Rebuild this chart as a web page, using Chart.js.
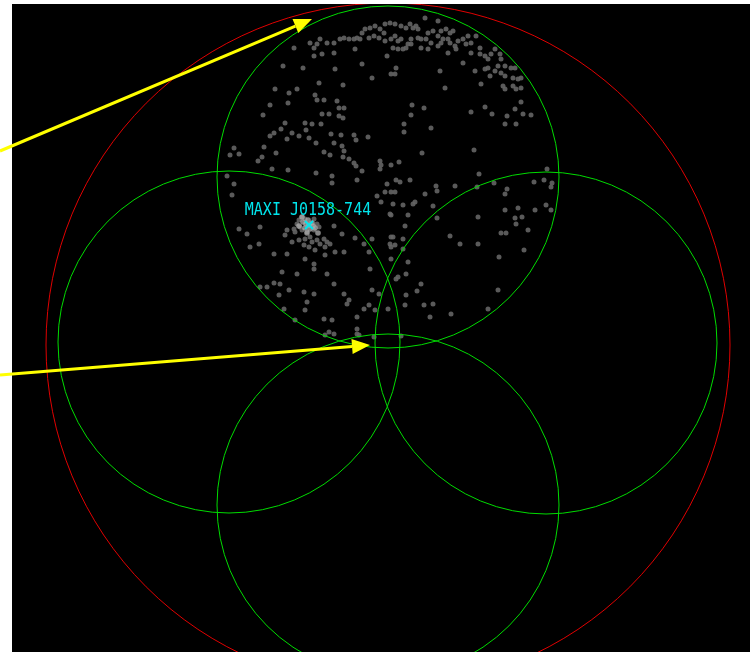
<!DOCTYPE html>
<html><head><meta charset="utf-8">
<script src="https://cdn.jsdelivr.net/npm/chart.js@4.4.1/dist/chart.umd.min.js"></script>
<style>html,body{margin:0;padding:0;background:#fff;}#wrap{width:750px;height:652px;}</style>
</head><body><div id="wrap"><canvas id="c" width="750" height="652"></canvas></div>
<script>
// gray event dots (detector coordinates)
const dotsX = [344,349,354,357,362,365,370,375,380,384,385,374,379,369,360,355,340,334,327,320,317,310,314,322,314,334,294,362,372,387,385,
283,303,335,319,343,275,297,289,315,317,324,337,270,288,339,344,329,322,339,343,263,285,305,312,321,281,306,292,270,274,287,299,309,331,341,354,368,356,316,334,342,264,276,324,344,330,234,230,239,262,258,343,349,354,380,381,380,356,288,272,316,362,332,227,
390,395,401,406,410,413,418,416,425,438,428,433,438,441,446,450,453,443,448,421,426,431,418,411,408,401,398,395,391,393,398,403,406,411,421,428,438,441,450,455,458,463,468,471,476,480,466,456,448,471,463,480,485,488,495,491,500,501,488,485,475,498,505,511,515,495,501,490,505,513,518,521,481,503,513,516,505,521,521,515,523,531,507,492,485,471,505,516,396,391,395,440,445,412,424,411,404,404,431,422,474,399,391,479,547,
234,232,332,357,377,381,385,387,
299,302,305,314,317,319,314,307,302,300,297,294,295,299,305,310,312,317,320,324,327,330,304,309,315,325,287,285,292,
239,247,260,259,250,334,342,355,372,369,364,344,335,325,287,274,305,314,314,282,297,327,334,344,349,347,370,372,379,369,375,364,357,260,267,274,279,289,280,304,314,307,305,284,295,324,332,329,357,374,334,
396,400,410,436,437,455,477,494,534,544,552,551,391,395,425,415,413,403,393,390,391,408,433,437,405,391,393,390,395,391,403,403,408,391,406,398,396,421,417,406,405,424,433,451,430,488,498,499,478,460,450,501,506,528,524,516,515,522,518,505,507,505,478,535,551,546,388,401,
325,357,359];
const dotsY = [38,39,39,38,33,29,28,26,29,33,24,36,38,38,39,49,39,43,43,39,44,43,48,54,56,53,48,64,78,56,41,
66,68,69,83,85,89,89,93,95,100,100,101,105,103,108,108,114,114,116,118,115,123,123,124,124,129,130,133,136,133,139,136,138,134,135,135,137,140,143,143,146,147,153,152,151,155,148,155,154,157,161,157,159,163,161,165,169,166,170,169,173,171,176,176,
23,24,26,28,24,28,29,26,18,21,33,31,36,31,29,33,31,39,39,39,39,43,38,39,44,39,41,36,39,48,49,49,48,44,48,49,46,43,43,46,41,39,36,43,36,48,44,49,53,53,63,54,56,59,49,54,54,59,68,69,71,66,66,68,68,71,73,76,76,78,79,78,84,86,86,89,89,88,102,109,114,115,116,114,107,112,124,124,68,74,74,71,88,105,108,115,124,132,128,153,150,162,165,174,169,
184,195,183,180,196,202,192,184,
220,217,219,219,224,227,230,232,230,227,224,229,232,240,239,237,242,240,244,239,242,244,245,247,250,247,230,235,242,
229,234,227,244,247,226,234,238,239,252,244,252,252,255,254,254,259,264,269,272,274,274,284,294,300,304,269,290,294,305,310,309,317,287,287,283,295,290,284,292,294,302,310,309,320,319,320,332,334,337,334,
180,182,180,186,191,186,187,183,182,180,183,187,192,192,194,202,204,205,204,214,215,215,206,218,226,237,237,244,245,247,249,239,262,259,274,277,279,284,291,295,305,305,304,314,317,309,290,257,244,244,236,233,233,230,250,224,218,217,208,210,189,194,217,210,210,205,309,336,
335,329,335];
// brighter events in the source blob
const srcX = [303,308,312,305,310,299,315,307,302,318,309,306,313];
const srcY = [222,220,223,228,229,226,228,233,217,233,225,224,226];
// fields of view (green) and outer limit (red)
const fovX = [388,229,546,388];
const fovY = [177,342,343,505];
const fovR = [171,171,171,171];
const limitX = [388];
const limitY = [345];
const limitR = [342];
// labelled source
const sourceName = ['MAXI J0158-744'];
const sourceX = [309];
const sourceY = [225];
// annotation arrows
const arrowFromX = [0,0];
const arrowFromY = [151,375];
const arrowToX = [312,370];
const arrowToY = [19,345];

const bgPlugin = {
  id:'bg',
  beforeDraw(chart){
    const {ctx, chartArea:a} = chart;
    ctx.save();
    ctx.fillStyle = '#ffffff';
    ctx.fillRect(0,0,chart.width,chart.height);
    ctx.fillStyle = '#000000';
    ctx.fillRect(a.left, a.top, a.right-a.left, a.bottom-a.top);
    ctx.restore();
  }
};

function drawCircles(chart, cxs, cys, rs, color){
  const {ctx, chartArea:a} = chart;
  const xs = chart.scales.x, ys = chart.scales.y;
  ctx.save();
  ctx.beginPath();
  ctx.rect(a.left, a.top, a.right-a.left, a.bottom-a.top);
  ctx.clip();
  ctx.strokeStyle = color;
  ctx.lineWidth = 1;
  for (let i=0;i<cxs.length;i++){
    const px = xs.getPixelForValue(cxs[i]);
    const py = ys.getPixelForValue(cys[i]);
    const pr = Math.abs(xs.getPixelForValue(cxs[i]+rs[i]) - px);
    ctx.beginPath();
    ctx.arc(px, py, pr, 0, Math.PI*2);
    ctx.stroke();
  }
  ctx.restore();
}

const circlePlugin = {
  id:'circles',
  afterDatasetsDraw(chart){
    drawCircles(chart, limitX, limitY, limitR, '#e00000');
    drawCircles(chart, fovX, fovY, fovR, '#00dc00');
  }
};

const annPlugin = {
  id:'ann',
  afterDraw(chart){
    const {ctx} = chart;
    const xs = chart.scales.x, ys = chart.scales.y;
    ctx.save();
    // label
    ctx.fillStyle = '#00e5ec';
    ctx.font = '15px "DejaVu Sans Mono", monospace';
    ctx.textBaseline = 'alphabetic';
    ctx.textAlign = 'center';
    for (let i=0;i<sourceName.length;i++){
      const px = xs.getPixelForValue(sourceX[i]);
      const py = ys.getPixelForValue(sourceY[i]);
      ctx.save();
      ctx.translate(px - 1, py - 10);
      ctx.scale(1, 1.12);
      ctx.fillText(sourceName[i], 0, 0);
      ctx.restore();
    }
    // source marker
    ctx.strokeStyle = '#00e5ec';
    ctx.lineWidth = 2;
    for (let i=0;i<sourceX.length;i++){
      const px = xs.getPixelForValue(sourceX[i]);
      const py = ys.getPixelForValue(sourceY[i]);
      ctx.beginPath();
      ctx.moveTo(px-4,py-4); ctx.lineTo(px+4,py+4);
      ctx.moveTo(px+4,py-4); ctx.lineTo(px-4,py+4);
      ctx.stroke();
    }
    // arrows
    ctx.strokeStyle = '#ffff00';
    ctx.fillStyle = '#ffff00';
    ctx.lineWidth = 3;
    for (let i=0;i<arrowFromX.length;i++){
      const x0 = xs.getPixelForValue(arrowFromX[i]), y0 = ys.getPixelForValue(arrowFromY[i]);
      const x1 = xs.getPixelForValue(arrowToX[i]), y1 = ys.getPixelForValue(arrowToY[i]);
      const ang = Math.atan2(y1-y0, x1-x0);
      const L = 18, W = 7.5;
      const bx = x1 - L*Math.cos(ang), by = y1 - L*Math.sin(ang);
      ctx.beginPath(); ctx.moveTo(x0,y0); ctx.lineTo(bx,by); ctx.stroke();
      ctx.beginPath();
      ctx.moveTo(x1,y1);
      ctx.lineTo(bx + W*Math.sin(ang), by - W*Math.cos(ang));
      ctx.lineTo(bx - W*Math.sin(ang), by + W*Math.cos(ang));
      ctx.closePath(); ctx.fill();
    }
    ctx.restore();
  }
};

const toPts = (xs, ys) => xs.map((x,i)=>({x:x, y:ys[i]}));

new Chart(document.getElementById('c'), {
  type:'scatter',
  data:{
    datasets:[
      { label:'source events', data: toPts(srcX, srcY),
        pointRadius:2.8, pointBackgroundColor:'rgba(175,175,175,0.75)', pointBorderWidth:0, clip:0 },
      { label:'events', data: toPts(dotsX, dotsY),
        pointRadius:2.5, pointBackgroundColor:'rgba(100,100,100,0.9)', pointBorderWidth:0, clip:0 }
    ]
  },
  options:{
    responsive:false,
    animation:false,
    events:[],
    devicePixelRatio:1,
    layout:{ autoPadding:false, padding:{ left:12, top:4, right:0, bottom:0 } },
    plugins:{ legend:{display:false}, tooltip:{enabled:false}, title:{display:false} },
    scales:{
      x:{ type:'linear', min:12, max:750, display:false },
      y:{ type:'linear', min:4, max:652, reverse:true, display:false }
    }
  },
  plugins:[bgPlugin, circlePlugin, annPlugin]
});
</script>
</body></html>
